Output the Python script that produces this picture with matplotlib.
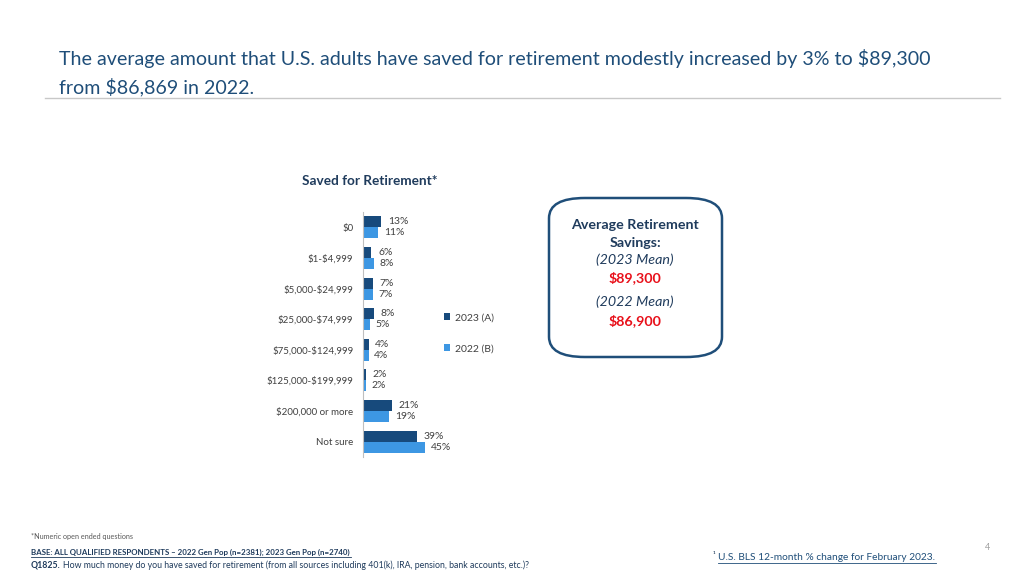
import matplotlib.pyplot as plt
from matplotlib.patches import FancyBboxPatch
from matplotlib.lines import Line2D
import numpy as np

plt.rcParams['font.family'] = ['Lato', 'DejaVu Sans']
plt.rcParams['text.parse_math'] = False

# data
categories = ['$0', '$1-$4,999', '$5,000-$24,999', '$25,000-$74,999',
              '$75,000-$124,999', '$125,000-$199,999', '$200,000 or more', 'Not sure']
vals_2023 = [13, 6, 7, 8, 4, 2, 21, 39]
vals_2022 = [11, 8, 7, 5, 4, 2, 19, 45]
series_names = ['2023 (A)', '2022 (B)']

dark = '#174A7C'
light = '#3D97E3'
navy_text = '#1F3B5C'

fig = plt.figure(figsize=(10.24, 5.76), dpi=100)

# header
fig.text(59/1024, 1-59/576, 'The average amount that U.S. adults have saved for retirement modestly increased by 3% to $89,300',
         fontsize=14.1, color='#1F4E79', va='center', ha='left')
fig.text(59/1024, 1-87/576, 'from $86,869 in 2022.', fontsize=14.1, color='#1F4E79', va='center', ha='left')
fig.add_artist(Line2D([45/1024, 1000/1024], [1-98/576, 1-98/576], color='#C8C8C8', lw=1))

# chart
ax = fig.add_axes([363/1024, 1-457/576, 138/1024, 245/576])
y = np.arange(len(categories))
h = 0.36
ax.barh(y - h/2, vals_2023, height=h, color=dark, label=series_names[0])
ax.barh(y + h/2, vals_2022, height=h, color=light, label=series_names[1])
for yy, v in zip(y - h/2, vals_2023):
    ax.text(v + 5, yy, f'{v}%', va='center', ha='left', fontsize=7.5, color='#404040')
for yy, v in zip(y + h/2, vals_2022):
    ax.text(v + 4, yy, f'{v}%', va='center', ha='left', fontsize=7.5, color='#404040')
ax.set_xlim(0, 100)
ax.set_ylim(len(categories) - 0.5, -0.5)
ax.set_yticks(y)
ax.set_yticklabels(categories, fontsize=7, color='#404040')
ax.tick_params(axis='y', length=0, pad=7)
ax.set_xticks([])
for s in ['top', 'right', 'bottom']:
    ax.spines[s].set_visible(False)
ax.spines['left'].set_color('#BFBFBF')
ax.legend(loc='upper left', bbox_to_anchor=(0.52, 0.625), frameon=False, fontsize=7.5,
          handlelength=0.6, handleheight=0.6, labelspacing=2.1, handletextpad=0.4,
          labelcolor='#404040')

fig.text(370/1024, 1-181/576, 'Saved for Retirement*', fontsize=9.8, fontweight='bold',
         color=navy_text, ha='center', va='center')

# summary box
box = FancyBboxPatch((549/1024, 1-357/576), 173/1024, 159/576,
                     boxstyle='round,pad=0,rounding_size=0.035', transform=fig.transFigure,
                     facecolor='white', edgecolor='#1F4E79', lw=1.8)
fig.add_artist(box)
cx = 635/1024
fig.text(cx, 1-225/576, 'Average Retirement', fontsize=10.3, fontweight='bold', color=navy_text, ha='center', va='center')
fig.text(cx, 1-243/576, 'Savings:', fontsize=10.3, fontweight='bold', color=navy_text, ha='center', va='center')
fig.text(cx, 1-260/576, '(2023 Mean)', fontsize=10.3, style='italic', color=navy_text, ha='center', va='center')
fig.text(cx, 1-278/576, '$89,300', fontsize=10.3, fontweight='bold', color='#E8101A', ha='center', va='center')
fig.text(cx, 1-302/576, '(2022 Mean)', fontsize=10.3, style='italic', color=navy_text, ha='center', va='center')
fig.text(cx, 1-321/576, '$86,900', fontsize=10.3, fontweight='bold', color='#E8101A', ha='center', va='center')

# footnotes
fig.text(31/1024, 1-537/576, '*Numeric open ended questions', fontsize=5.2, color='#595959', va='center')
fig.text(31/1024, 1-552/576, 'BASE: ALL QUALIFIED RESPONDENTS \u2013 2022 Gen Pop (n=2381); 2023 Gen Pop (n=2740)',
         fontsize=5.7, fontweight='bold', color='#1F3B5C', va='center')
fig.add_artist(Line2D([31/1024, 351/1024], [1-557/576, 1-557/576], color='#1F3B5C', lw=0.6))
fig.text(31/1024, 1-565/576, 'Q1825.', fontsize=6.3, fontweight='bold', color='#1F3B5C', va='center')
fig.text(63/1024, 1-565/576,
         'How much money do you have saved for retirement (from all sources including 401(k), IRA, pension, bank accounts, etc.)?',
         fontsize=6.3, color='#1F3B5C', va='center')
fig.text(713/1024, 1-556/576, '\u00b9', fontsize=6, color='#1F3B5C', va='center')
fig.text(718/1024, 1-558/576, 'U.S. BLS 12-month % change for February 2023.', fontsize=7.3,
         color='#1F4E79', va='center')
fig.add_artist(Line2D([718/1024, 936/1024], [1-563/576, 1-563/576], color='#1F4E79', lw=0.6))
fig.text(988/1024, 1-548/576, '4', fontsize=6.5, color='#A0A0A0', ha='center', va='center')

fig.savefig('out.png', dpi=100)
